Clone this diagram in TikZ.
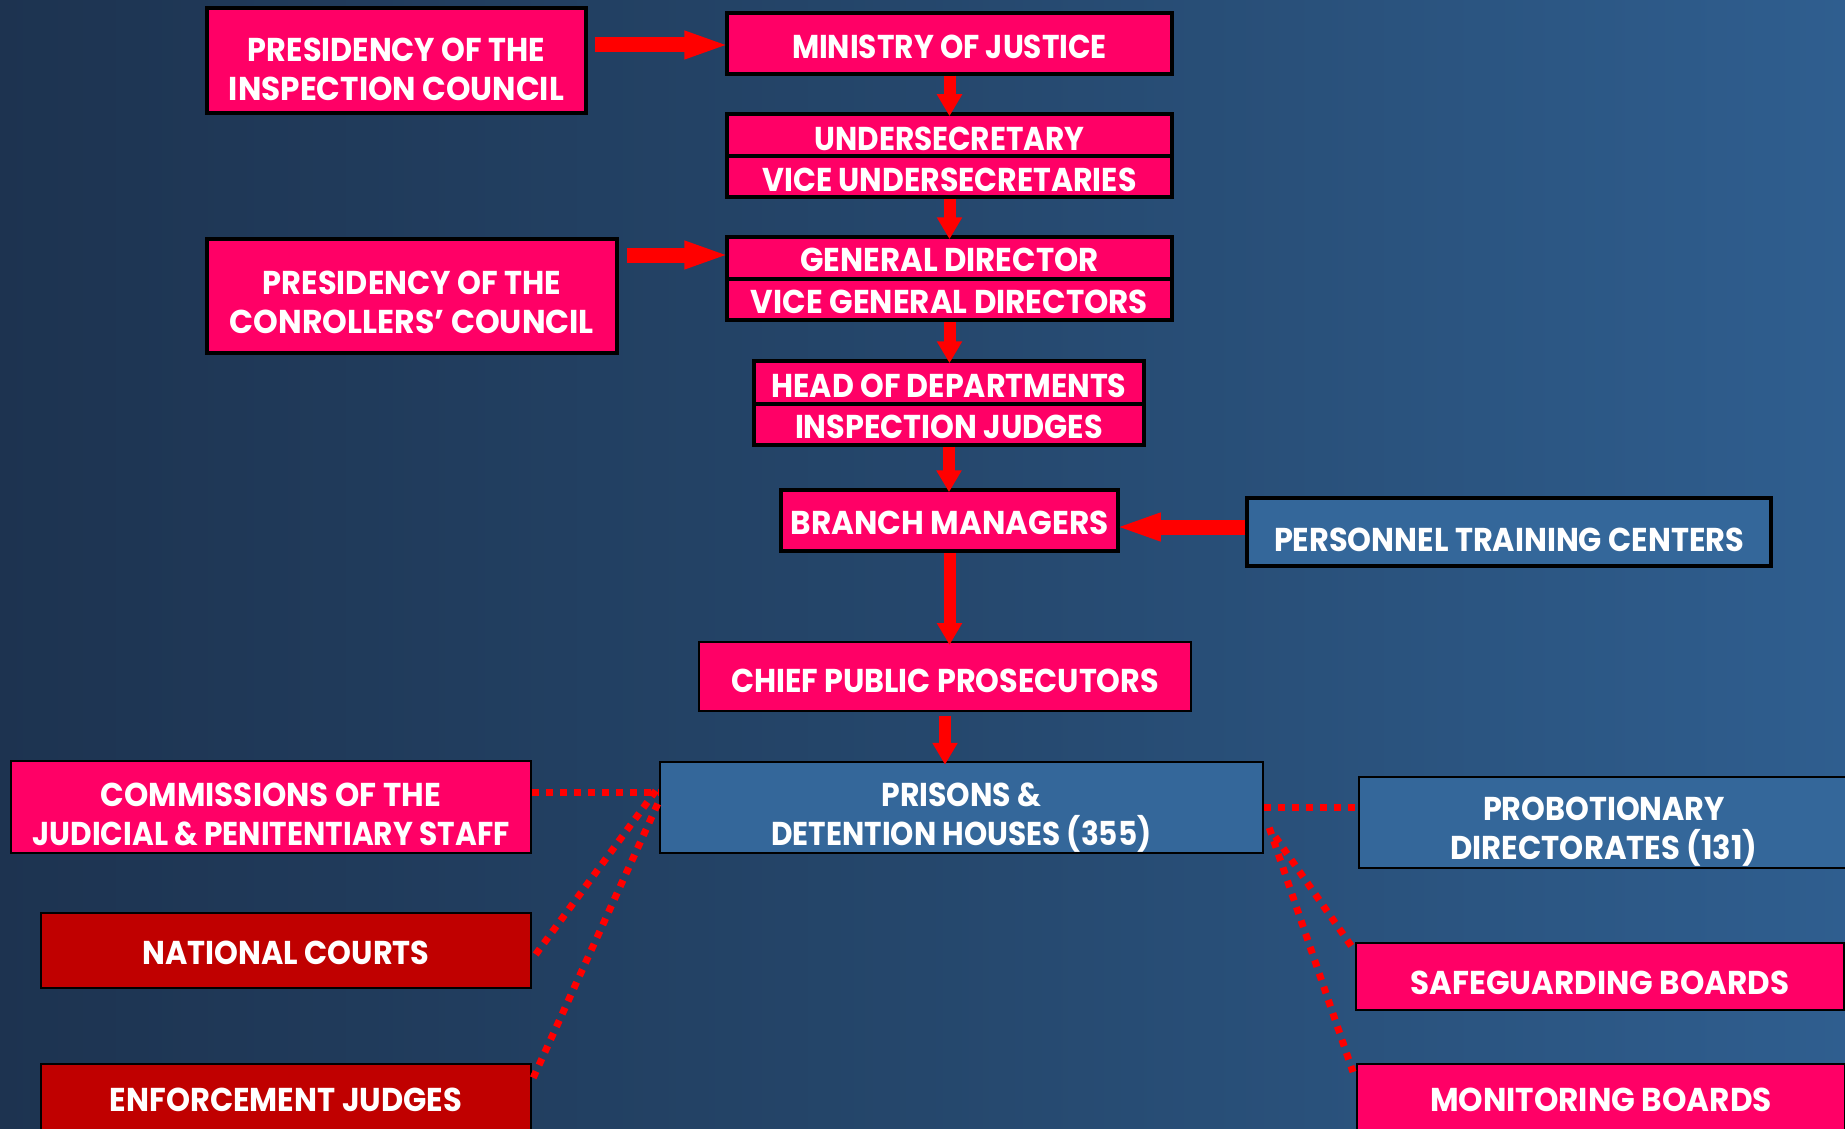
\documentclass[tikz,border=0pt]{standalone}
\usepackage{fontspec}
\setmainfont{Poppins}
\usetikzlibrary{arrows.meta}
\definecolor{pinkfill}{RGB}{255,0,102}
\definecolor{darkredfill}{RGB}{192,0,0}
\definecolor{bluefill}{RGB}{52,103,154}
\definecolor{bgL}{RGB}{29,51,80}
\definecolor{bgM}{RGB}{37,71,108}
\definecolor{bgR}{RGB}{47,94,143}
\definecolor{arrowred}{RGB}{255,0,0}
\newcommand{\fitw}[3][2]{\raisebox{-#1pt}[\height][\depth]{\resizebox{#2pt}{\height}{#3}}}
\begin{document}
\begin{tikzpicture}[x=1pt,y=-1pt,
  basebox/.style={draw=black, text=white, font=\fontsize{33}{39}\selectfont\bfseries, align=center, inner sep=0pt},
  pnode/.style={basebox, fill=pinkfill, line width=3.5pt},
  rnode/.style={basebox, fill=darkredfill, line width=2pt},
  bnode/.style={basebox, fill=bluefill, line width=2.5pt},
  varrow/.style={draw=arrowred, line width=12pt, shorten >=-4pt, -{Triangle[width=24pt,length=22pt]}},
  harrow/.style={draw=arrowred, line width=15pt, shorten >=-5pt, -{Triangle[width=25pt,length=46pt]}},
  dotl/.style={draw=arrowred, line width=7pt, dash pattern=on 7pt off 7pt}]
\useasboundingbox (0,0) rectangle (1845,1129);
\clip (0,0) rectangle (1845,1129);
\shade[left color=bgL, right color=bgR, middle color=bgM] (0,0) rectangle (1845,1129);

% nodes
\node[pnode, minimum width=379pt, minimum height=105pt] (insp) at (396.5,60.5)
  {\fitw[9]{297}{PRESIDENCY OF THE}\\\fitw[9]{335}{INSPECTION COUNCIL}};
\node[pnode, minimum width=445pt, minimum height=61pt] (moj) at (949.5,43.5)
  {\fitw[3]{315}{MINISTRY OF JUSTICE}};
\node[pnode, minimum width=445pt, minimum height=42pt] (under) at (949.5,135)
  {\fitw[4]{270}{UNDERSECRETARY}};
\node[pnode, minimum width=445pt, minimum height=41pt] (vunder) at (949.5,176.5)
  {\fitw[3]{374}{VICE UNDERSECRETARIES}};
\node[pnode, minimum width=410pt, minimum height=114pt] (ctrl) at (412,296)
  {\fitw[6]{298}{PRESIDENCY OF THE}\\\fitw[6]{364}{CONROLLERS’ COUNCIL}};
\node[pnode, minimum width=445pt, minimum height=42pt] (gd) at (949.5,258)
  {\fitw{298}{GENERAL DIRECTOR}};
\node[pnode, minimum width=445pt, minimum height=41pt] (vgd) at (949.5,299.5)
  {\fitw{397}{VICE GENERAL DIRECTORS}};
\node[pnode, minimum width=390pt, minimum height=43pt] (hod) at (949,382.5)
  {\fitw[3]{355}{HEAD OF DEPARTMENTS}};
\node[pnode, minimum width=390pt, minimum height=41pt] (ij) at (949,424.5)
  {\fitw{308}{INSPECTION JUDGES}};
\node[pnode, minimum width=337pt, minimum height=61pt] (bm) at (949.5,520.5)
  {\fitw{318}{BRANCH MANAGERS}};
\node[bnode, line width=3.5pt, minimum width=524pt, minimum height=68pt] (ptc) at (1509,532)
  {\fitw[8]{470}{PERSONNEL TRAINING CENTERS}};
\node[pnode, line width=2pt, minimum width=492pt, minimum height=69pt] (cpp) at (945,676.5)
  {\fitw[4]{428}{CHIEF PUBLIC PROSECUTORS}};
\node[bnode, minimum width=603pt, minimum height=91pt] (prisons) at (961.5,807.5)
  {\fitw[10]{160}{PRISONS \&}\\\fitw[10]{380}{DETENTION HOUSES (355)}};
\node[pnode, line width=2pt, minimum width=520pt, minimum height=92pt] (comm) at (271,807)
  {\fitw[7]{340}{COMMISSIONS OF THE}\\\fitw[7]{477}{JUDICIAL \& PENITENTIARY STAFF}};
\node[bnode, minimum width=490pt, minimum height=91pt] (prob) at (1604,822.5)
  {\fitw[9]{242}{PROBOTIONARY}\\\fitw[9]{307}{DIRECTORATES (131)}};
\node[rnode, minimum width=490pt, minimum height=75pt] (natl) at (286,950.5)
  {\fitw{287}{NATIONAL COURTS}};
\node[pnode, line width=2pt, minimum width=488pt, minimum height=67pt] (safe) at (1600,976.5)
  {\fitw[6]{379}{SAFEGUARDING BOARDS}};
\node[rnode, minimum width=490pt, minimum height=75pt] (enf) at (286,1101.5)
  {\fitw[-2]{352}{ENFORCEMENT JUDGES}};
\node[pnode, line width=2pt, minimum width=488pt, minimum height=75pt] (mon) at (1601,1101.5)
  {\fitw[-2]{342}{MONITORING BOARDS}};

% vertical arrows
\draw[varrow] (moj.south) -- (moj.south |- under.north);
\draw[varrow] (vunder.south) -- (vunder.south |- gd.north);
\draw[varrow] (vgd.south) -- (vgd.south |- hod.north);
\draw[varrow] (ij.south) -- (ij.south |- bm.north);
\draw[varrow] (bm.south) -- (bm.south |- cpp.north);
\draw[varrow, shorten <=4pt] (cpp.south) -- (cpp.south |- prisons.north);

% horizontal arrows
\coordinate (ia) at ([yshift=-1.5pt]moj.west);
\draw[harrow, shorten <=7pt] (insp.east |- ia) -- (ia);
\coordinate (ca) at ([yshift=3pt]gd.west);
\draw[harrow, shorten <=8pt] (ctrl.east |- ca) -- (ca);
\coordinate (pa) at ([yshift=5pt]ptc.west);
\draw[harrow] (pa) -- (pa -| bm.east);

% dotted connectors
\coordinate (cm) at ([yshift=15pt]comm.east);
\draw[dotl] (cm) -- (cm -| prisons.west);
\coordinate (pl1) at ([xshift=-3pt,yshift=-30pt]prisons.north west);
\coordinate (pl2) at ([xshift=-1pt,yshift=-43pt]prisons.north west);
\draw[dotl] (pl1) -- ([yshift=-9pt]natl.east);
\draw[dotl] (pl2) -- ([yshift=21pt]enf.east);
\draw[dotl] (prisons.east) -- (prisons.east -| prob.west);
\coordinate (pr1) at ([xshift=5pt,yshift=-67pt]prisons.north east);
\coordinate (pr2) at ([xshift=11pt,yshift=-76pt]prisons.north east);
\draw[dotl] (pr2) -- ([xshift=-3pt,yshift=-5pt]safe.north west);
\draw[dotl] (pr1) -- ([xshift=-3pt,yshift=-9pt]mon.north west);
\end{tikzpicture}
\end{document}
